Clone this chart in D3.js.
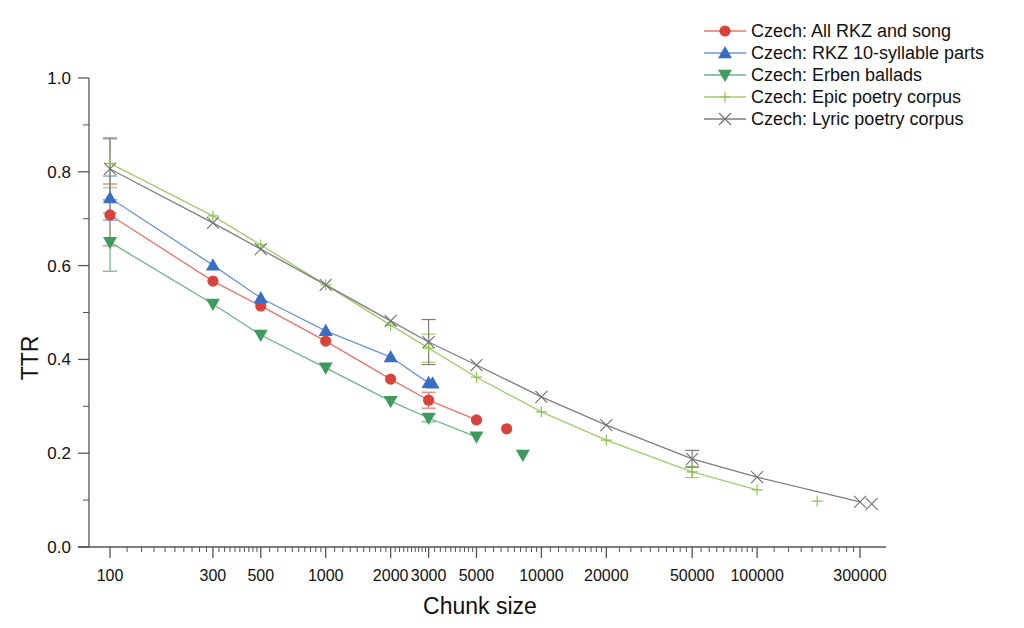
<!DOCTYPE html>
<html>
<head>
<meta charset="utf-8">
<script src="https://cdn.jsdelivr.net/npm/d3@7/dist/d3.min.js"></script>
<style>
html,body{margin:0;padding:0;background:#fff;}
svg{display:block;font-family:"Liberation Sans",Arial,sans-serif;}
</style>
</head>
<body>
<svg id="chart" width="1024" height="628"></svg>
<script>
// ---- data ----
const xMajorTicks = [100,300,500,1000,2000,3000,5000,10000,20000,50000,100000,300000];
const yMajorTicks = [0,0.2,0.4,0.6,0.8,1.0];
const yMinorTicks = [0.1,0.3,0.5,0.7,0.9];

const seriesNames = ["Czech: All RKZ and song","Czech: RKZ 10-syllable parts","Czech: Erben ballads","Czech: Epic poetry corpus","Czech: Lyric poetry corpus"];

const rkzX = [100,300,500,1000,2000,3000,5000];
const rkzY = [0.708,0.567,0.514,0.439,0.358,0.313,0.271];
const rkzExtraX = [6900];
const rkzExtraY = [0.252];
const rkzErr = [[100,0.708,0.066],[3000,0.313,0.017]];

const rkz10X = [100,300,500,1000,2000,3000];
const rkz10Y = [0.744,0.601,0.531,0.461,0.405,0.350];
const rkz10ExtraX = [3130];
const rkz10ExtraY = [0.349];
const rkz10Err = [[100,0.744,0.047]];

const erbenX = [100,300,500,1000,2000,3000,5000];
const erbenY = [0.650,0.518,0.452,0.382,0.311,0.275,0.235];
const erbenExtraX = [8200];
const erbenExtraY = [0.196];
const erbenErr = [[100,0.650,0.062],[3000,0.275,0.008]];

const epicX = [100,300,500,1000,2000,3000,5000,10000,20000,50000,100000];
const epicY = [0.818,0.706,0.644,0.559,0.473,0.424,0.362,0.288,0.228,0.160,0.122];
const epicExtraX = [190000];
const epicExtraY = [0.098];
const epicErr = [[100,0.818,0.052],[3000,0.424,0.03],[50000,0.160,0.012]];

const lyricX = [100,300,500,1000,2000,3000,5000,10000,20000,50000,100000,300000];
const lyricY = [0.806,0.691,0.635,0.559,0.482,0.437,0.388,0.320,0.260,0.188,0.149,0.096];
const lyricExtraX = [340000];
const lyricExtraY = [0.092];
const lyricErr = [[100,0.806,0.066],[3000,0.437,0.048],[50000,0.188,0.018]];

const colors = ["#d8443c","#3a6ec2","#3f9a5e","#8dc352","#6e6e6e"];
const lineColors = ["#e7756c","#6c95d6","#6cb685","#9fcd6a","#7e7e7e"];
const markers = ["circle","triangle","triangleDown","plus","cross"];

// ---- layout ----
const svg = d3.select("#chart");
const x = d3.scaleLog().domain([100,300000]).range([110,860]);
const y = d3.scaleLinear().domain([0,1]).range([547,78]);
const axisLeftX = 89, axisRightX = 886, axisY = 547;

const g = svg.append("g");

// x axis line
g.append("line").attr("x1",axisLeftX-11).attr("x2",axisRightX).attr("y1",axisY).attr("y2",axisY)
  .attr("stroke","#555").attr("stroke-width",1.3);
// y axis line
g.append("line").attr("x1",axisLeftX).attr("x2",axisLeftX).attr("y1",y(1)).attr("y2",axisY)
  .attr("stroke","#555").attr("stroke-width",1.3);

// x minor ticks
const xMinor = [];
for (let i=0;i<xMajorTicks.length-1;i++){
  const a=xMajorTicks[i], b=xMajorTicks[i+1];
  for(let k=1;k<10;k++) xMinor.push(a+(b-a)*k/10);
}
g.selectAll(".xmin").data(xMinor).enter().append("line")
  .attr("x1",d=>x(d)).attr("x2",d=>x(d)).attr("y1",axisY).attr("y2",axisY+5)
  .attr("stroke","#555").attr("stroke-width",1);
g.selectAll(".xmaj").data(xMajorTicks).enter().append("line")
  .attr("x1",d=>x(d)).attr("x2",d=>x(d)).attr("y1",axisY).attr("y2",axisY+11)
  .attr("stroke","#555").attr("stroke-width",1.3);
g.selectAll(".xlab").data(xMajorTicks).enter().append("text")
  .attr("x",d=>x(d)).attr("y",581).attr("text-anchor","middle")
  .attr("font-size",16).attr("fill","#111").text(d=>String(d));

// y ticks
g.selectAll(".ymin").data(yMinorTicks).enter().append("line")
  .attr("x1",axisLeftX-6).attr("x2",axisLeftX).attr("y1",d=>y(d)).attr("y2",d=>y(d))
  .attr("stroke","#555").attr("stroke-width",1);
g.selectAll(".ymaj").data(yMajorTicks).enter().append("line")
  .attr("x1",axisLeftX-11).attr("x2",axisLeftX).attr("y1",d=>y(d)).attr("y2",d=>y(d))
  .attr("stroke","#555").attr("stroke-width",1.3);
g.selectAll(".ylab").data(yMajorTicks).enter().append("text")
  .attr("x",71).attr("y",d=>y(d)+6).attr("text-anchor","end")
  .attr("font-size",17).attr("fill","#111").text(d=>d.toFixed(1));

// axis titles
g.append("text").attr("x",480).attr("y",614).attr("text-anchor","middle")
  .attr("font-size",23).attr("fill","#111").text("Chunk size");
g.append("text").attr("transform","translate(38,358) rotate(-90)").attr("text-anchor","middle")
  .attr("font-size",23).attr("fill","#111").text("TTR");

// marker drawing
function drawMarker(sel, type, cx, cy, color){
  if(type==="circle"){
    sel.append("circle").attr("cx",cx).attr("cy",cy).attr("r",5.6).attr("fill",color);
  } else if(type==="triangle"){
    const s=7;
    sel.append("path").attr("d",`M${cx},${cy-s}L${cx+s},${cy+s*0.75}L${cx-s},${cy+s*0.75}Z`).attr("fill",color);
  } else if(type==="triangleDown"){
    const s=7;
    sel.append("path").attr("d",`M${cx},${cy+s}L${cx+s},${cy-s*0.75}L${cx-s},${cy-s*0.75}Z`).attr("fill",color);
  } else if(type==="plus"){
    const s=5.5;
    sel.append("path").attr("d",`M${cx-s},${cy}H${cx+s}M${cx},${cy-s}V${cy+s}`).attr("stroke",color).attr("stroke-width",1.2).attr("fill","none");
  } else if(type==="cross"){
    const s=6;
    sel.append("path").attr("d",`M${cx-s},${cy-s}L${cx+s},${cy+s}M${cx-s},${cy+s}L${cx+s},${cy-s}`).attr("stroke",color).attr("stroke-width",1.1).attr("fill","none");
  }
}

const series = [
  {xs:rkzX, ys:rkzY, ex:rkzExtraX, ey:rkzExtraY, err:rkzErr},
  {xs:rkz10X, ys:rkz10Y, ex:rkz10ExtraX, ey:rkz10ExtraY, err:rkz10Err},
  {xs:erbenX, ys:erbenY, ex:erbenExtraX, ey:erbenExtraY, err:erbenErr},
  {xs:epicX, ys:epicY, ex:epicExtraX, ey:epicExtraY, err:epicErr},
  {xs:lyricX, ys:lyricY, ex:lyricExtraX, ey:lyricExtraY, err:lyricErr}
];

const line = d3.line().x(d=>x(d[0])).y(d=>y(d[1]));
const plot = svg.append("g");

// error bars (drawn first)
series.forEach((s,i)=>{
  const eg = plot.append("g");
  s.err.forEach(e=>{
    const cx=x(e[0]), y1=y(e[1]+e[2]), y2=y(e[1]-e[2]);
    eg.append("line").attr("x1",cx).attr("x2",cx).attr("y1",y1).attr("y2",y2).attr("stroke",lineColors[i]).attr("stroke-width",1.2);
    [y1,y2].forEach(yy=>eg.append("line").attr("x1",cx-7).attr("x2",cx+7).attr("y1",yy).attr("y2",yy).attr("stroke",lineColors[i]).attr("stroke-width",1.2));
  });
});

// lines
series.forEach((s,i)=>{
  const pts = s.xs.map((v,j)=>[v,s.ys[j]]);
  plot.append("path").attr("d",line(pts)).attr("fill","none").attr("stroke",lineColors[i]).attr("stroke-width",1.3);
});
// markers
series.forEach((s,i)=>{
  const mg = plot.append("g");
  s.xs.forEach((v,j)=>drawMarker(mg, markers[i], x(v), y(s.ys[j]), colors[i]));
  s.ex.forEach((v,j)=>drawMarker(mg, markers[i], x(v), y(s.ey[j]), colors[i]));
});

// legend
const lg = svg.append("g");
seriesNames.forEach((name,i)=>{
  const yy = 31 + i*22;
  lg.append("line").attr("x1",704).attr("x2",746).attr("y1",yy).attr("y2",yy).attr("stroke",lineColors[i]).attr("stroke-width",1.3);
  drawMarker(lg, markers[i], 725, yy, colors[i]);
  lg.append("text").attr("x",751).attr("y",yy+6).attr("font-size",18).attr("fill","#111").text(name);
});
</script>
</body>
</html>
